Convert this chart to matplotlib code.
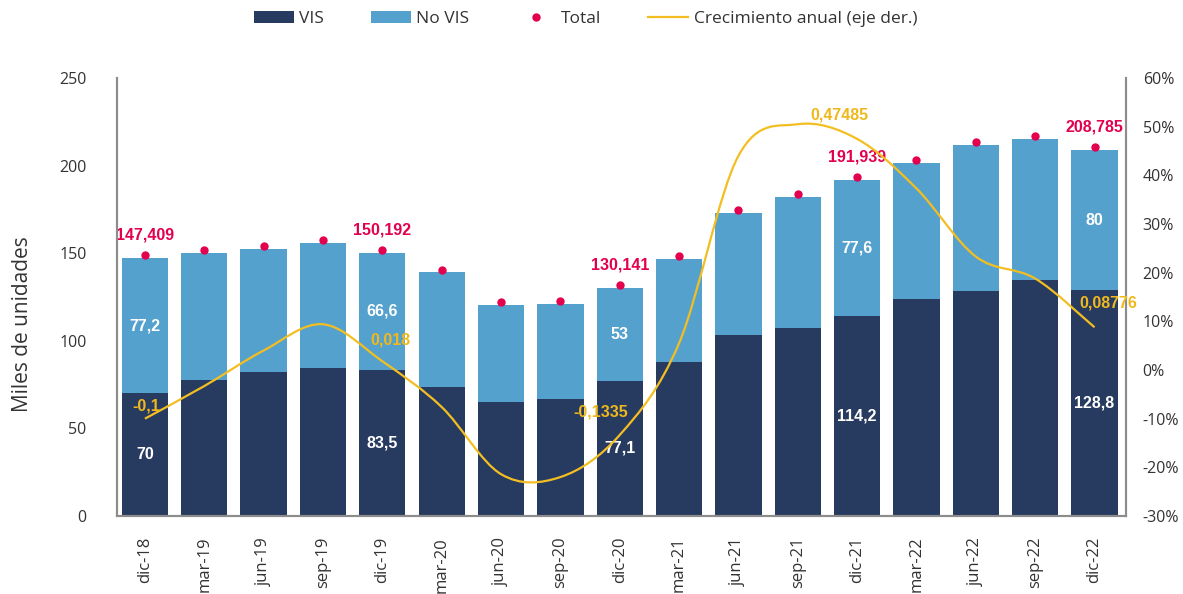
import matplotlib
matplotlib.use("Agg")
import matplotlib.pyplot as plt
import numpy as np
from matplotlib.path import Path
from matplotlib.patches import PathPatch, Patch
from matplotlib.lines import Line2D
from matplotlib.ticker import FuncFormatter
import matplotlib.transforms as mtrans

plt.rcParams['font.family'] = ['Open Sans', 'DejaVu Sans']

categories = ['dic-18', 'mar-19', 'jun-19', 'sep-19', 'dic-19', 'mar-20', 'jun-20', 'sep-20',
              'dic-20', 'mar-21', 'jun-21', 'sep-21', 'dic-21', 'mar-22', 'jun-22', 'sep-22', 'dic-22']
vis = [70, 77.6, 82.2, 84.7, 83.5, 73.6, 65.1, 66.8, 77.1, 87.9, 103.3, 107.5, 114.2, 123.7, 128.6, 134.7, 128.8]
no_vis = [77.2, 72.5, 70.4, 71.1, 66.6, 65.5, 55.3, 54.2, 53.0, 58.8, 69.5, 74.8, 77.6, 78.0, 83.2, 80.5, 80.0]
total = [147.409, 150.1, 152.6, 155.8, 150.192, 139.1, 120.4, 121.0, 130.141, 146.7, 172.8, 182.3,
         191.939, 201.7, 211.8, 215.2, 208.785]
growth = [-0.1, -0.033, 0.04, 0.094, 0.018, -0.076, -0.214, -0.22, -0.1335, 0.055, 0.44, 0.505,
          0.47485, 0.373, 0.233, 0.188, 0.08776]
labeled = [0, 4, 8, 12, 16]

C_VIS = '#273a60'
C_NOVIS = '#55a1cd'
C_TOT = '#e2004f'
C_LINE = '#f3be22'
C_LINE_TXT = '#efb81c'
C_SPINE = '#8c8c8c'
C_TXT = '#333333'

fig = plt.figure(figsize=(11.83, 5.94), dpi=100)
ax = fig.add_axes([117/1183, (594-516)/594, (1126-117)/1183, (516-78)/594])
ax2 = ax.twinx()

x = np.arange(len(categories))
w = 0.78
ax.bar(x, vis, w, color=C_VIS, zorder=2)
ax.bar(x, no_vis, w, bottom=vis, color=C_NOVIS, zorder=2)

lift = mtrans.offset_copy(ax.transData, fig=fig, x=0, y=2.0, units='points')
ax.plot(x, total, 'o', color=C_TOT, markersize=5, transform=lift, zorder=4, linestyle='none')

ax.set_xlim(-0.47, 16.53)
ax.set_ylim(0, 250)
ax.set_yticks([0, 50, 100, 150, 200, 250])
ax.set_xticks(x)
ax.set_xticklabels(categories, rotation=90, fontsize=12, color=C_TXT)
ax.tick_params(axis='y', labelsize=11.5, colors=C_TXT, length=0, pad=22)
ax.tick_params(axis='x', length=0, pad=15)
ax.set_ylabel('Miles de unidades', fontsize=15, color=C_TXT)
ax.yaxis.set_label_coords(-0.083, 0.438)

for a in (ax, ax2):
    a.spines['top'].set_visible(False)
    for s in ['left', 'right', 'bottom']:
        a.spines[s].set_color(C_SPINE)
        a.spines[s].set_linewidth(1.5)

ax2.set_ylim(-0.30, 0.60)
ax2.set_yticks(np.arange(-0.3, 0.61, 0.1))
ax2.yaxis.set_major_formatter(FuncFormatter(lambda v, p: f"{round(v*100):d}%"))
ax2.tick_params(axis='y', labelsize=11.5, colors=C_TXT, length=0, pad=12)

# smoothed growth line (Catmull-Rom style bezier through data points)
gy = np.array(growth)
n = len(gy)
verts = [(x[0], gy[0])]
codes = [Path.MOVETO]
for i in range(n - 1):
    p0 = np.array([x[max(i-1, 0)], gy[max(i-1, 0)]])
    p1 = np.array([x[i], gy[i]])
    p2 = np.array([x[i+1], gy[i+1]])
    p3 = np.array([x[min(i+2, n-1)], gy[min(i+2, n-1)]])
    c1 = p1 + (p2 - p0) / 6.0
    c2 = p2 - (p3 - p1) / 6.0
    verts += [tuple(c1), tuple(c2), tuple(p2)]
    codes += [Path.CURVE4] * 3
ax2.add_patch(PathPatch(Path(verts, codes), facecolor='none', edgecolor=C_LINE, lw=1.6, zorder=5))

ax.set_zorder(1)
ax2.set_zorder(2)
ax2.patch.set_visible(False)

def fmt(v):
    return f"{v:g}".replace('.', ',')

lbl_font = dict(fontfamily=['Liberation Sans', 'DejaVu Sans'], fontweight='bold', fontsize=11.5)
for i in labeled:
    ax.text(x[i], vis[i] / 2, fmt(vis[i]), ha='center', va='center', color='white', zorder=6, **lbl_font)
    ax.text(x[i], vis[i] + no_vis[i] / 2, fmt(no_vis[i]), ha='center', va='center', color='white', zorder=6, **lbl_font)
    ax.annotate(f"{total[i]:.3f}".replace('.', ','), (x[i], total[i]), xytext=(0, 11),
                textcoords='offset points', ha='center', va='bottom', color=C_TOT, zorder=6, **lbl_font)

g_off = {0: (1, 4), 4: (6, 10), 8: (-14, 11), 12: (-13, 12), 16: (10, 12)}
for i in labeled:
    ax2.annotate(fmt(growth[i]), (x[i], growth[i]), xytext=g_off[i], textcoords='offset points',
                 ha='center', va='bottom', color=C_LINE_TXT, zorder=7, **lbl_font)

handles = [Patch(facecolor=C_VIS, edgecolor='none', label='VIS'),
           Patch(facecolor=C_NOVIS, edgecolor='none', label='No VIS'),
           Line2D([], [], marker='o', color=C_TOT, linestyle='none', markersize=5, label='Total'),
           Line2D([], [], color=C_LINE, lw=1.6, label='Crecimiento anual (eje der.)')]
fig.legend(handles=handles, loc='center', bbox_to_anchor=(0.495, 0.968), ncol=4, frameon=False,
           fontsize=12.5, handlelength=2.3, handleheight=0.65, columnspacing=2.7, handletextpad=0.3,
           labelcolor=C_TXT)

fig.savefig('out.png', dpi=100)
